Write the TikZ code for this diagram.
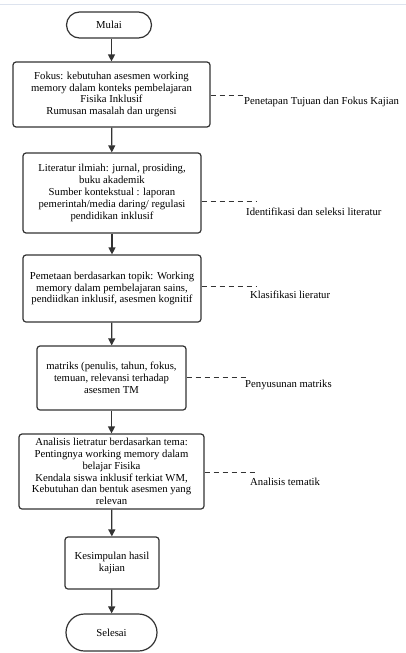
\documentclass[tikz,border=0pt]{standalone}
\usepackage{fontspec}
\setmainfont{Liberation Serif}
\usetikzlibrary{arrows.meta,shapes.misc}
\definecolor{edge}{HTML}{333333}
\definecolor{topline}{HTML}{DDE3EE}
\begin{document}
\begin{tikzpicture}[x=1pt,y=-1pt,
  font=\fontsize{10.7}{11.8}\selectfont,
  box/.style={draw=edge,line width=1.2pt,rounded corners=3pt,fill=white,align=center,inner sep=0pt},
  term/.style={draw=edge,line width=1.2pt,rounded rectangle,fill=white,align=center,inner sep=0pt},
  flow/.style={draw=edge,line width=1.2pt,-{Triangle[length=7pt,width=7pt]}},
  side/.style={draw=edge,line width=0.9pt,dash pattern=on 5pt off 4pt},
  lab/.style={anchor=west,inner sep=0pt,align=left}]
\useasboundingbox[fill=white] (0,0) rectangle (406,653);
\draw[topline,line width=1pt] (0,4) -- (406,4);

\node[term,minimum width=85pt,minimum height=26pt] (mulai) at (109,25) {Mulai};
\node[box,minimum width=197pt,minimum height=65pt] (b1) at (111.5,94.5)
  {Fokus: kebutuhan asesmen working\\memory dalam konteks pembelajaran\\Fisika Inklusif\\Rumusan masalah dan urgensi};
\node[box,minimum width=178pt,minimum height=80pt] (b2) at (112,193)
  {Literatur ilmiah: jurnal, prosiding,\\buku akademik\\Sumber kontekstual : laporan\\pemerintah/media daring/ regulasi\\pendidikan inklusif};
\node[box,minimum width=178pt,minimum height=67pt] (b3) at (112,288.5)
  {Pemetaan berdasarkan topik: Working\\memory dalam pembelajaran sains,\\pendiidkan inklusif, asesmen kognitif};
\node[box,minimum width=149pt,minimum height=64pt] (b4) at (111.5,378)
  {matriks (penulis, tahun, fokus,\\temuan, relevansi terhadap\\asesmen TM};
\node[box,minimum width=185pt,minimum height=75pt] (b5) at (111.5,471.5)
  {Analisis lietratur berdasarkan tema:\\Pentingnya working memory dalam\\belajar Fisika\\Kendala siswa inklusif terkiat WM,\\Kebutuhan dan bentuk asesmen yang\\relevan};
\node[box,minimum width=94pt,minimum height=52pt] (b6) at (112,563)
  {Kesimpulan hasil\\kajian};
\node[term,minimum width=91pt,minimum height=37pt] (selesai) at (111.5,632.5) {Selesai};

\draw[flow] (mulai.south -| b1.north) -- (b1.north);
\draw[flow] (b1) -- (b2);
\draw[flow] (b2) -- (b3);
\draw[flow] (b3) -- (b4);
\draw[flow] (b4) -- (b5);
\draw[flow] (b5) -- (b6);
\draw[flow] (b6) -- (selesai);

\coordinate (d1) at (245,95);
\coordinate (d2) at (257,201);
\coordinate (d3) at (257,286);
\coordinate (d4) at (246,377);
\coordinate (d5) at (255,472);
\draw[side] (b1.east |- d1) -- (d1);
\draw[side] (b2.east |- d2) -- (d2);
\draw[side] (b3.east |- d3) -- (d3);
\draw[side] (b4.east |- d4) -- (d4);
\draw[side] (b5.east |- d5) -- (d5);

\node[lab] (l1) at (244,102) {Penetapan Tujuan dan Fokus Kajian};
\node[lab] (l2) at (246,212) {Identifikasi dan seleksi literatur};
\node[lab] (l3) at (250,295) {Klasifikasi lieratur};
\node[lab] (l4) at (245,385) {Penyusunan matriks};
\node[lab] (l5) at (250,482) {Analisis tematik};
\end{tikzpicture}
\end{document}
